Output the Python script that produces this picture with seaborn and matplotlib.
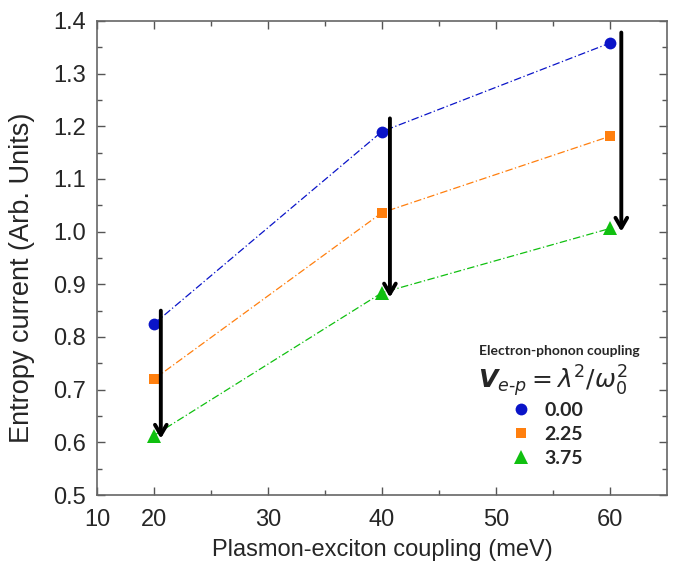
import matplotlib
matplotlib.use("Agg")
import matplotlib.pyplot as plt
import seaborn as sns
import pandas as pd
from matplotlib.ticker import MultipleLocator, FixedLocator
from matplotlib.lines import Line2D

# ---- data ----
coupling = [20, 40, 60]
vep_labels = ["0.00", "2.25", "3.75"]
entropy_000 = [0.825, 1.190, 1.358]
entropy_225 = [0.720, 1.036, 1.181]
entropy_375 = [0.613, 0.884, 1.006]
arrow_x = [20.6, 40.7, 61.0]
arrow_top = [0.850, 1.215, 1.378]
arrow_bottom = [0.607, 0.875, 1.000]

sns.set_theme(style="ticks")
plt.rcParams["font.family"] = ["Liberation Sans", "DejaVu Sans"]

rows = []
for lab, vals in zip(vep_labels, [entropy_000, entropy_225, entropy_375]):
    for xv, yv in zip(coupling, vals):
        rows.append({"coupling": xv, "entropy": yv, "vep": lab})
df = pd.DataFrame(rows)

colors = {"0.00": "#0a14c8", "2.25": "#ff7f0e", "3.75": "#10c010"}
markers = {"0.00": "o", "2.25": "s", "3.75": "^"}
msizes = {"0.00": 8.5, "2.25": 7.5, "3.75": 10}

fig = plt.figure(figsize=(6.84, 5.66), dpi=100)
ax = fig.add_axes([0.1418, 0.1254, 0.8332, 0.8376])

handles = []
for lab in vep_labels:
    sub = df[df["vep"] == lab]
    sns.lineplot(data=sub, x="coupling", y="entropy", ax=ax, color=colors[lab],
                 linestyle=(0, (6, 2, 1, 2)), linewidth=0.9, marker=markers[lab],
                 markersize=msizes[lab], markeredgewidth=0, legend=False)
    handles.append(Line2D([], [], color=colors[lab], linestyle="none",
                          marker=markers[lab], markersize=msizes[lab], markeredgewidth=0))

for xa, yt, yb in zip(arrow_x, arrow_top, arrow_bottom):
    ax.annotate("", xy=(xa, yb), xytext=(xa, yt),
                arrowprops=dict(arrowstyle="->,head_length=0.6,head_width=0.35",
                                color="black", lw=2.8, shrinkA=0, shrinkB=0))

ax.set_xlim(15, 65)
ax.set_ylim(0.5, 1.4)
ax.xaxis.set_major_locator(FixedLocator([15, 20, 30, 40, 50, 60]))
ax.set_xticklabels(["10", "20", "30", "40", "50", "60"])
ax.xaxis.set_minor_locator(FixedLocator([25, 35, 45, 55]))
ax.yaxis.set_major_locator(MultipleLocator(0.1))
ax.yaxis.set_minor_locator(MultipleLocator(0.05))
ax.yaxis.set_major_formatter(matplotlib.ticker.FormatStrFormatter("%.1f"))

ax.tick_params(which="both", direction="in", top=True, right=True,
               color="#555555", labelsize=17)
ax.tick_params(axis="y", which="major", pad=8)
ax.tick_params(axis="x", which="major", pad=10)
ax.tick_params(which="major", length=6, width=1)
ax.tick_params(which="minor", length=3.5, width=1)
for s in ax.spines.values():
    s.set_color("#666666")
    s.set_linewidth(1.2)

ax.set_xlabel("Plasmon-exciton coupling (meV)", fontsize=17, labelpad=6)
ax.set_ylabel("Entropy current (Arb. Units)", fontsize=19.5)
ax.yaxis.set_label_coords(-0.109, 0.458)

ax.text(0.812, 0.304, "Electron-phonon coupling", transform=ax.transAxes,
        ha="center", va="center", fontsize=10, fontweight="bold", family=["Lato", "DejaVu Sans"])
ax.text(0.80, 0.240, r"$\boldsymbol{V}_{e\text{-}p}=\lambda^2/\omega_0^2$", transform=ax.transAxes,
        ha="center", va="center", fontsize=18)

leg = ax.legend(handles, vep_labels, loc="upper left", bbox_to_anchor=(0.70, 0.225),
                frameon=False, handlelength=1.2, handletextpad=0.6, labelspacing=0.35,
                borderpad=0.2,
                prop={"family": ["Lato", "DejaVu Sans"], "weight": "bold", "size": 14})

fig.savefig("out.png", dpi=100)
